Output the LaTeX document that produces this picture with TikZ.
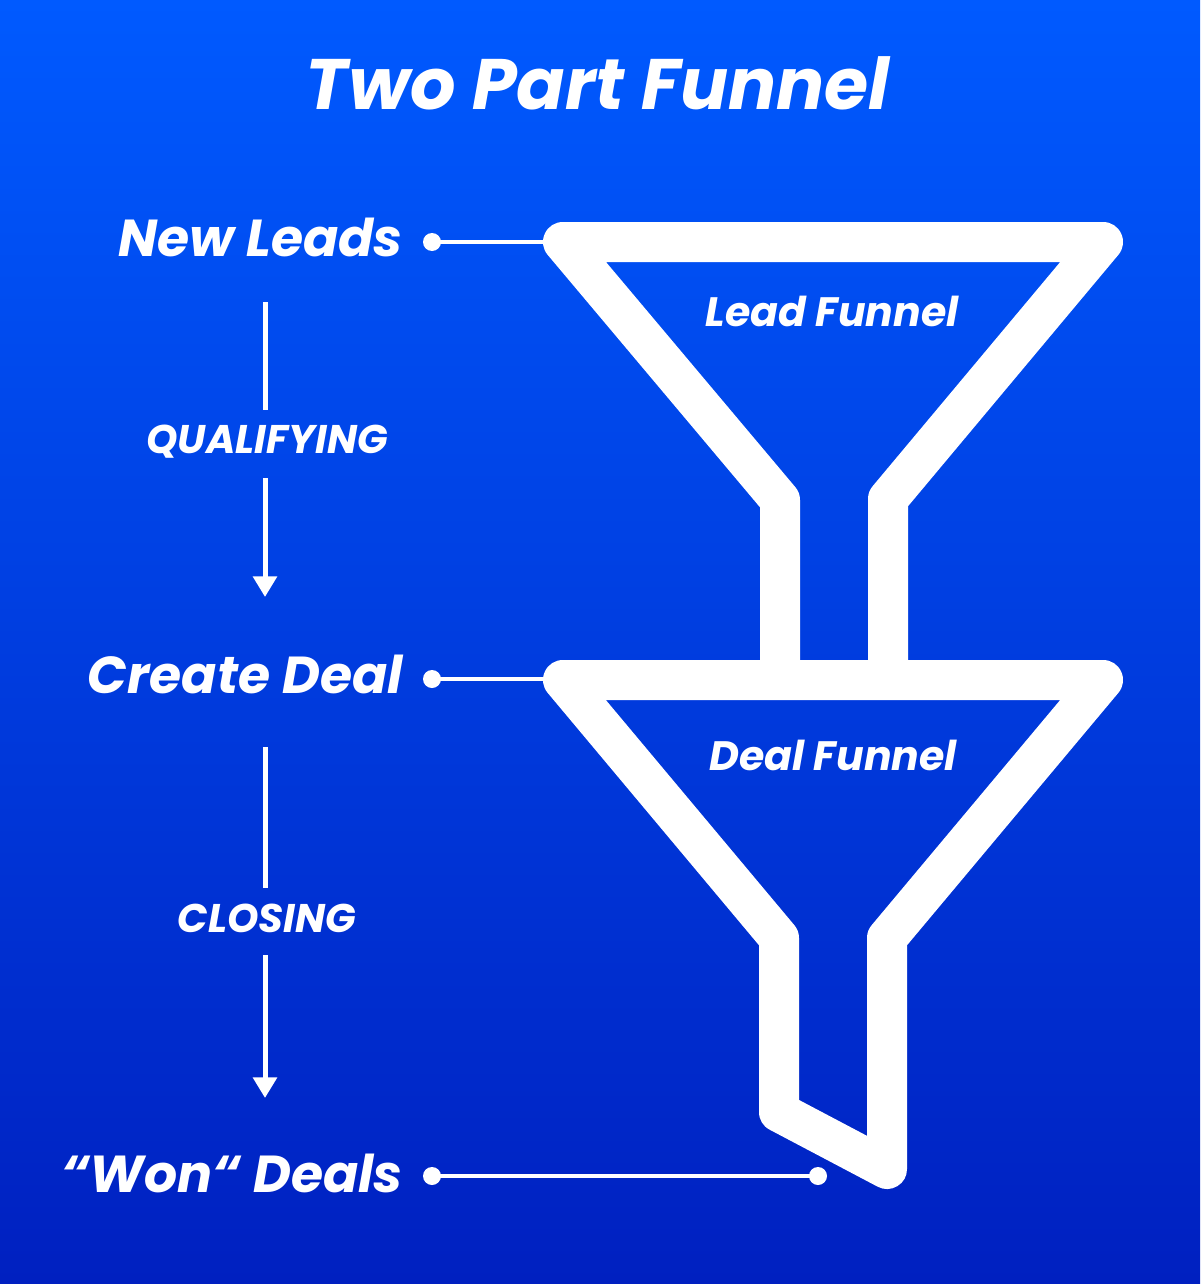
\documentclass[tikz,border=0pt]{standalone}
\usepackage{fontspec}
\setmainfont{Poppins}
\usetikzlibrary{arrows.meta}
\definecolor{bgtop}{RGB}{0,90,255}
\definecolor{bgbot}{RGB}{0,32,192}
\begin{document}
\begin{tikzpicture}[x=0.75pt,y=-0.75pt,
  funnel/.style={draw=white, line width=30pt, line join=round},
  lbl/.style={text=white, inner sep=0pt},
  dotnode/.style={circle, fill=white, minimum size=13.5pt, inner sep=0pt},
  conn/.style={draw=white, line width=3.5pt},
  flow/.style={draw=white, line width=3.75pt},
  flowarrow/.style={flow, -{Triangle[width=17.5pt,length=15.5pt]}},
  titlefont/.style={font=\fontsize{53.6}{60}\selectfont\bfseries\itshape},
  bigfont/.style={font=\fontsize{39}{44}\selectfont\bfseries\itshape},
  midfont/.style={font=\fontsize{30.8}{34}\selectfont\bfseries\itshape},
  smallfont/.style={font=\fontsize{30}{34}\selectfont\bfseries\itshape}]
\useasboundingbox (0,0) rectangle (1200,1284);
\shade[top color=bgtop, bottom color=bgbot] (0,0) rectangle (1200,1284);

% title
\node[lbl, titlefont, anchor=base] (title) at (598,110) {Two Part Funnel};

% funnels
\draw[funnel] (780,680) -- (780,500) -- (563,242) -- (1103,242) -- (888,499) -- (888,680);
\draw[funnel] (563,680) -- (1103,680) -- (887,938) -- (887,1169) -- (779,1112) -- (779,938) -- cycle;
\coordinate (leadtop) at (563,242);
\coordinate (dealtop) at (563,679);

\node[lbl, midfont, anchor=base] (leadf) at (832,326) {Lead Funnel};
\node[lbl, midfont, anchor=base] (dealf) at (833,770) {Deal Funnel};

% stage labels
\node[lbl, bigfont, anchor=base east] (newleads) at (403,256) {New Leads};
\node[lbl, bigfont, anchor=base east] (create) at (403,693) {Create Deal};
\node[lbl, bigfont, anchor=base east] (won) at (403,1192) {“Won“ Deals};

% dots and connectors
\node[dotnode] (d1) at (432,242) {};
\node[dotnode] (d2) at (432,679) {};
\node[dotnode] (d3) at (432,1176) {};
\node[dotnode] (d4) at (818,1176) {};
\draw[conn] (d1.center) -- (leadtop);
\draw[conn] (d2.center) -- (dealtop);
\draw[conn] (d3.center) -- (d4.center);

% flow arrows
\node[lbl, smallfont, anchor=base] (qual) at (267,453) {QUALIFYING};
\node[lbl, smallfont, anchor=base] (closing) at (267,932) {CLOSING};
\coordinate (q1) at (265,302);
\coordinate (q2) at (265,410);
\coordinate (q3) at (265,478);
\coordinate (q4) at (265,597);
\coordinate (c1) at (265,747);
\coordinate (c2) at (265,888);
\coordinate (c3) at (265,955);
\coordinate (c4) at (265,1098);
\draw[flow] (q1) -- (q2);
\draw[flowarrow] (q3) -- (q4);
\draw[flow] (c1) -- (c2);
\draw[flowarrow] (c3) -- (c4);
\end{tikzpicture}
\end{document}
